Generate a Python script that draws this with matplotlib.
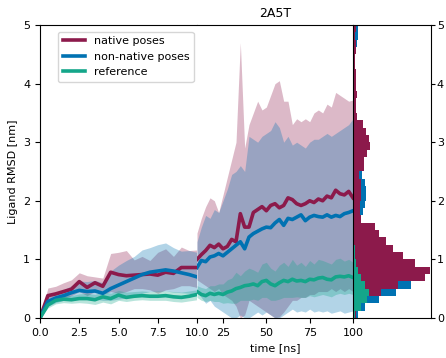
import numpy as np
import matplotlib
matplotlib.use("Agg")
import matplotlib.pyplot as plt

# colours per pose class
c_native = "#8C1A4B"
c_nonnative = "#0072B2"
c_ref = "#14A68A"

# ---- first 10 ns (sampled every 0.5 ns) ----
t_left = np.arange(0, 10.01, 0.5)
native_left = [0, 0.38, 0.41, 0.45, 0.49, 0.62, 0.52, 0.60, 0.54, 0.78, 0.74, 0.72, 0.73,
               0.74, 0.75, 0.73, 0.78, 0.76, 0.86, 0.86, 0.86]
native_left_lo = [0, 0.28, 0.30, 0.33, 0.38, 0.45, 0.38, 0.45, 0.40, 0.45, 0.42, 0.45, 0.50,
                  0.50, 0.48, 0.42, 0.48, 0.50, 0.55, 0.55, 0.52]
native_left_hi = [0, 0.51, 0.54, 0.60, 0.65, 0.77, 0.72, 0.70, 0.68, 1.10, 1.12, 1.15, 0.99,
                  1.05, 0.98, 1.12, 1.18, 1.05, 1.21, 1.15, 1.16]
nonnative_left = [0, 0.28, 0.34, 0.38, 0.43, 0.47, 0.45, 0.46, 0.42, 0.50, 0.56, 0.62, 0.68,
                  0.74, 0.78, 0.80, 0.82, 0.80, 0.77, 0.74, 0.70]
nonnative_left_lo = [0, 0.20, 0.26, 0.30, 0.32, 0.34, 0.32, 0.32, 0.30, 0.30, 0.32, 0.34, 0.38,
                     0.42, 0.45, 0.45, 0.46, 0.44, 0.43, 0.42, 0.40]
nonnative_left_hi = [0, 0.36, 0.43, 0.48, 0.55, 0.63, 0.62, 0.64, 0.60, 0.80, 0.90, 0.98, 1.05,
                     1.16, 1.20, 1.25, 1.28, 1.20, 1.14, 1.15, 1.12]
ref_left = [0, 0.22, 0.30, 0.32, 0.31, 0.33, 0.33, 0.31, 0.36, 0.33, 0.39, 0.35, 0.37,
            0.38, 0.37, 0.37, 0.38, 0.36, 0.35, 0.37, 0.40]
ref_left_lo = [0, 0.17, 0.24, 0.26, 0.25, 0.26, 0.25, 0.23, 0.27, 0.24, 0.30, 0.28, 0.30,
               0.31, 0.30, 0.30, 0.30, 0.28, 0.27, 0.29, 0.31]
ref_left_hi = [0, 0.28, 0.37, 0.39, 0.38, 0.41, 0.42, 0.40, 0.45, 0.42, 0.47, 0.44, 0.45,
               0.46, 0.45, 0.46, 0.46, 0.45, 0.44, 0.46, 0.48]

# ---- 10 to 100 ns (sampled every 2.5 ns) ----
t_right = np.arange(10, 100.01, 2.5)
native_right = [1.00, 1.08, 1.15, 1.24, 1.20, 1.26, 1.18, 1.22, 1.34, 1.30, 1.78, 1.55, 1.55,
                1.80, 1.85, 1.90, 1.83, 1.92, 1.95, 1.88, 1.92, 2.05, 2.02, 1.95, 1.92, 1.95,
                2.00, 1.97, 2.03, 2.00, 2.08, 2.05, 2.18, 2.12, 2.10, 2.16, 2.05]
native_right_lo = [0.65, 0.60, 0.55, 0.50, 0.45, 0.50, 0.40, 0.35, 0.30, 0.20, 0.00, 0.05, 0.30,
                   0.25, 0.20, 0.15, 0.10, 0.05, 0.00, 0.02, 0.10, 0.20, 0.30, 0.30, 0.35, 0.35,
                   0.40, 0.40, 0.45, 0.45, 0.45, 0.50, 0.45, 0.50, 0.45, 0.50, 0.45]
native_right_hi = [1.45, 1.70, 1.90, 2.05, 2.00, 1.80, 2.10, 2.40, 2.70, 3.00, 4.70, 2.90, 3.30,
                   3.50, 3.70, 3.55, 3.60, 3.80, 4.00, 4.05, 3.70, 3.70, 3.30, 3.40, 3.35, 3.40,
                   3.35, 3.50, 3.55, 3.50, 3.65, 3.60, 3.85, 3.80, 3.75, 3.70, 3.72]
nonnative_right = [0.86, 0.98, 0.96, 1.04, 1.06, 1.10, 1.06, 1.12, 1.18, 1.24, 1.30, 1.18, 1.38,
                   1.44, 1.48, 1.52, 1.55, 1.54, 1.62, 1.68, 1.58, 1.70, 1.68, 1.72, 1.76, 1.66,
                   1.72, 1.75, 1.73, 1.72, 1.76, 1.72, 1.75, 1.73, 1.78, 1.80, 1.83]
nonnative_right_lo = [0.45, 0.35, 0.25, 0.30, 0.20, 0.15, 0.10, 0.05, 0.00, 0.00, 0.05, 0.00, 0.00,
                      0.05, 0.10, 0.05, 0.10, 0.05, 0.00, 0.00, 0.05, 0.10, 0.15, 0.10, 0.12, 0.10,
                      0.15, 0.10, 0.12, 0.10, 0.12, 0.08, 0.10, 0.12, 0.08, 0.10, 0.12]
nonnative_right_hi = [1.30, 1.55, 1.75, 1.70, 1.85, 1.80, 2.00, 2.20, 2.45, 2.50, 2.60, 2.50, 3.10,
                      3.05, 3.00, 3.10, 3.15, 3.20, 3.35, 3.25, 3.00, 3.10, 2.95, 3.00, 2.95, 2.90,
                      3.00, 3.05, 3.05, 3.10, 3.15, 3.10, 3.15, 3.20, 3.25, 3.30, 3.40]
ref_right = [0.45, 0.40, 0.38, 0.42, 0.40, 0.42, 0.40, 0.44, 0.46, 0.50, 0.52, 0.55, 0.56,
             0.58, 0.55, 0.62, 0.64, 0.58, 0.55, 0.60, 0.64, 0.62, 0.66, 0.63, 0.64, 0.62,
             0.66, 0.65, 0.68, 0.69, 0.66, 0.65, 0.70, 0.71, 0.70, 0.72, 0.69]
ref_right_lo = [0.35, 0.30, 0.28, 0.30, 0.28, 0.28, 0.25, 0.26, 0.25, 0.25, 0.30, 0.30, 0.30,
                0.32, 0.30, 0.35, 0.35, 0.30, 0.30, 0.32, 0.35, 0.35, 0.35, 0.36, 0.35, 0.35,
                0.38, 0.36, 0.38, 0.40, 0.38, 0.36, 0.40, 0.42, 0.40, 0.42, 0.40]
ref_right_hi = [0.55, 0.52, 0.50, 0.55, 0.55, 0.58, 0.58, 0.65, 0.68, 0.78, 0.72, 0.80, 0.85,
                0.82, 0.78, 0.92, 0.95, 0.85, 0.80, 0.90, 0.95, 0.88, 1.00, 0.90, 0.95, 0.88,
                0.98, 0.92, 1.00, 0.98, 0.95, 0.92, 1.00, 1.02, 0.97, 1.00, 0.95]

# ---- RMSD distributions (40 bins from 0 to 5 nm) ----
bin_edges = np.linspace(0, 5, 41)
hist_native = [3, 6, 14, 28, 45, 72, 77, 62, 50, 40, 33, 26, 22, 8, 7, 7, 8, 8, 8, 6,
               11, 11, 14, 17, 16, 13, 10, 4, 3, 3, 4, 3, 3, 3, 2, 2, 3, 3, 2, 3]
hist_nonnative = [5, 12, 26, 43, 58, 67, 60, 50, 40, 30, 22, 15, 10, 8, 10, 12, 13, 13, 12, 9,
                  6, 5, 5, 4, 4, 3, 2, 2, 2, 2, 2, 2, 2, 2, 2, 2, 3, 4, 5, 5]
hist_ref = [2, 8, 14, 16, 12, 8, 5, 3, 2, 2, 1, 1, 1, 0, 0, 0, 0, 0, 0, 0,
            0, 0, 0, 0, 0, 0, 0, 0, 0, 0, 0, 0, 0, 0, 0, 0, 0, 0, 0, 0]

plt.rcParams['font.size'] = 8

fig = plt.figure(figsize=(4.46, 3.58), dpi=100)
bottom, height = 0.112, 0.818
ax_l = fig.add_axes([0.0897, bottom, 0.352, height])
ax_r = fig.add_axes([0.4417, bottom, 0.3498, height])
ax_h = fig.add_axes([0.7915, bottom, 0.174, height])

series = [
    ("native poses", c_native, native_left, native_left_lo, native_left_hi,
     native_right, native_right_lo, native_right_hi),
    ("non-native poses", c_nonnative, nonnative_left, nonnative_left_lo, nonnative_left_hi,
     nonnative_right, nonnative_right_lo, nonnative_right_hi),
    ("reference", c_ref, ref_left, ref_left_lo, ref_left_hi,
     ref_right, ref_right_lo, ref_right_hi),
]

# shaded spread first, mean lines on top
for label, col, ml, lol, hil, mr, lor, hir in series:
    ax_l.fill_between(t_left, lol, hil, color=col, alpha=0.3, lw=0)
    ax_r.fill_between(t_right, lor, hir, color=col, alpha=0.3, lw=0)
for label, col, ml, lol, hil, mr, lor, hir in series:
    ax_l.plot(t_left, ml, color=col, lw=2.6, label=label)
    ax_r.plot(t_right, mr, color=col, lw=2.6)

ax_l.set_xlim(0, 10)
ax_r.set_xlim(10, 100)
for ax in (ax_l, ax_r, ax_h):
    ax.set_ylim(0, 5)

ax_l.set_xticks([0, 2.5, 5, 7.5, 10])
ax_l.set_xticklabels(["0.0", "2.5", "5.0", "7.5", "10.0"])
ax_l.spines['right'].set_visible(False)
ax_l.set_ylabel("Ligand RMSD [nm]")
ax_l.legend(loc='upper left', bbox_to_anchor=(0.115, 0.977), borderaxespad=0,
            fontsize=8, handlelength=2.0)

ax_r.set_xticks([25, 50, 75, 100])
ax_r.set_yticks([])
ax_r.spines['left'].set_visible(False)
ax_r.spines['right'].set_visible(False)
ax_r.set_xlabel("time [ns]")
ax_r.set_title("2A5T", fontsize=9)

# histograms of the RMSD values
ax_h.stairs(hist_nonnative, bin_edges, orientation='horizontal', fill=True, color=c_nonnative)
ax_h.stairs(hist_native, bin_edges, orientation='horizontal', fill=True, color=c_native)
ax_h.stairs(hist_ref, bin_edges, orientation='horizontal', fill=True, color=c_ref)
ax_h.set_xlim(0, 78)
ax_h.set_xticks([])
ax_h.yaxis.tick_right()
ax_h.set_yticks([0, 1, 2, 3, 4, 5])
ax_h.tick_params(axis='y', length=3, pad=1.5)

fig.savefig("out.png", dpi=100)
